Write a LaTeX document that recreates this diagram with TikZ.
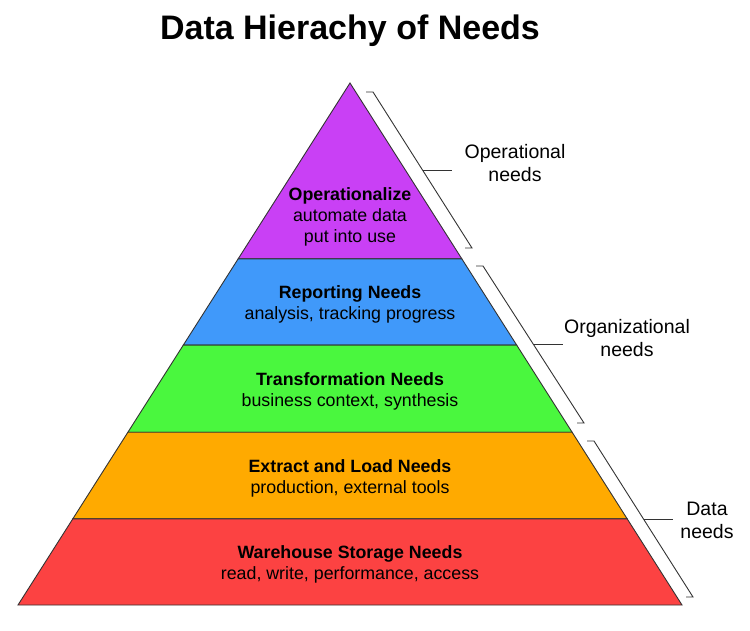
\documentclass[tikz,border=0pt]{standalone}
\usepackage{fontspec}
\setmainfont{Liberation Sans}
\usetikzlibrary{calc}
\definecolor{opcol}{RGB}{201,64,245}
\definecolor{repcol}{RGB}{64,153,250}
\definecolor{trcol}{RGB}{74,247,62}
\definecolor{elcol}{RGB}{255,170,0}
\definecolor{whcol}{RGB}{252,66,66}
\tikzset{
  layertext/.style={align=center,font=\fontsize{17.8}{21}\selectfont,inner sep=0pt},
  sidelabel/.style={align=center,font=\fontsize{19.5}{23}\selectfont,inner sep=0pt},
  brace/.style={black!80,line width=0.9pt}
}

\begin{document}
\begin{tikzpicture}[x=1pt,y=-1pt]
\useasboundingbox (0,0) rectangle (750,630);
\coordinate (apex) at (350,83);
\coordinate (bl) at (18,605);
\coordinate (br) at (682,605);
% layers, top to bottom (fractions along the side edges)
\foreach \ta/\tb/\col in {0/0.337/opcol,0.337/0.502/repcol,
  0.502/0.669/trcol,0.669/0.835/elcol,0.835/1/whcol}{
  \filldraw[fill=\col,draw=black!80,line width=0.9pt]
    ($(apex)!\ta!(bl)$) -- ($(apex)!\ta!(br)$)
    -- ($(apex)!\tb!(br)$) -- ($(apex)!\tb!(bl)$) -- cycle;
}
\node[font=\fontsize{34}{40}\selectfont\bfseries,anchor=base] (title)
  at (350,39) {Data Hierachy of Needs};
% layer texts
\node[layertext] (op) at (350,217) {\textbf{Operationalize}\\automate data\\put into use};
\node[layertext] (rep) at (350,304) {\textbf{Reporting Needs}\\analysis, tracking progress};
\node[layertext] (tr) at (350,391) {\textbf{Transformation Needs}\\business context, synthesis};
\node[layertext] (el) at (350,478) {\textbf{Extract and Load Needs}\\production, external tools};
\node[layertext] (wh) at (350,564) {\textbf{Warehouse Storage Needs}\\read, write, performance, access};
% side brackets
\foreach \nm/\xa/\ya/\xb/\yb in {bop/373/92/472/248,borg/483/266/584/423,
  bdata/594/441/693/597}{
  \coordinate (\nm-t) at (\xa,\ya);
  \coordinate (\nm-b) at (\xb,\yb);
  \coordinate (\nm-m) at ($(\nm-t)!0.5!(\nm-b)$);
  \coordinate (\nm-e) at ($(\nm-m)+(29,0)$);
  \draw[brace] ($(\nm-t)+(-7,0)$) -- (\nm-t) -- (\nm-b) -- ($(\nm-b)+(-7,0)$);
  \draw[brace] (\nm-m) -- (\nm-e);
}
\node[sidelabel] (lop) at (515,163) {Operational\\needs};
\node[sidelabel] (lorg) at (627,338) {Organizational\\needs};
\node[sidelabel] (ldata) at (707,520) {Data\\needs};
\end{tikzpicture}
\end{document}
